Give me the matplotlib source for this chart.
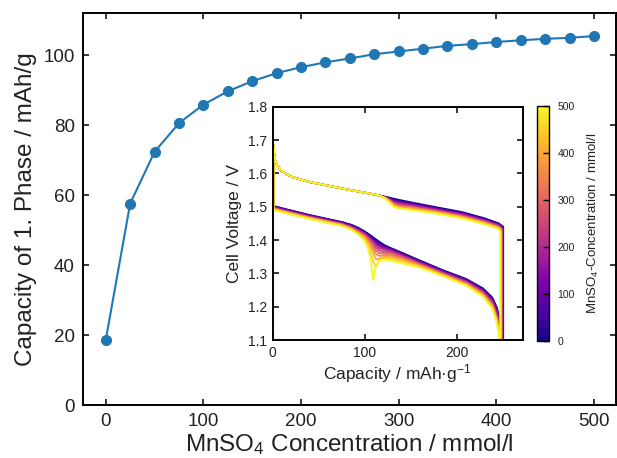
import numpy as np
import matplotlib
matplotlib.use("Agg")
import matplotlib.pyplot as plt
from matplotlib import cm, colors

plt.rcParams['font.family'] = ['Liberation Sans', 'DejaVu Sans']
plt.rcParams['mathtext.fontset'] = 'custom'
plt.rcParams['mathtext.rm'] = 'Liberation Sans'
plt.rcParams['mathtext.it'] = 'Liberation Sans:italic'
plt.rcParams['mathtext.bf'] = 'Liberation Sans:bold'

# ---------------- main data ----------------
conc = [0, 25, 50, 75, 100, 125, 150, 175, 200, 225, 250, 275, 300, 325, 350,
        375, 400, 425, 450, 475, 500]
capacity_phase1 = [18.6, 57.6, 72.4, 80.6, 85.9, 89.7, 92.6, 94.9, 96.6, 98.0,
                   99.1, 100.3, 101.1, 101.9, 102.7, 103.2, 103.8, 104.3, 104.7,
                   105.0, 105.5]

# ---------------- inset data ----------------
curve_conc = [0, 50, 100, 150, 200, 250, 300, 350, 400, 450, 500]

lower_cap = [0.8, 15, 40, 65, 75, 85, 92, 99, 103, 106, 109, 112, 116, 121, 128, 140,
             160, 185, 210, 228, 238, 243, 246]
lower_v = [
    [1.502, 1.492, 1.475, 1.460, 1.454, 1.446, 1.438, 1.427, 1.420, 1.414, 1.408, 1.402, 1.394, 1.385, 1.376, 1.362, 1.338, 1.309, 1.283, 1.255, 1.228, 1.198, 1.165],
    [1.501, 1.491, 1.474, 1.459, 1.453, 1.445, 1.436, 1.425, 1.417, 1.411, 1.404, 1.398, 1.390, 1.382, 1.374, 1.360, 1.336, 1.307, 1.281, 1.253, 1.225, 1.193, 1.159],
    [1.500, 1.490, 1.473, 1.458, 1.452, 1.443, 1.434, 1.423, 1.415, 1.408, 1.401, 1.394, 1.386, 1.379, 1.372, 1.358, 1.334, 1.305, 1.279, 1.250, 1.221, 1.189, 1.153],
    [1.498, 1.488, 1.471, 1.456, 1.450, 1.441, 1.432, 1.421, 1.412, 1.405, 1.397, 1.389, 1.381, 1.376, 1.370, 1.356, 1.332, 1.304, 1.277, 1.248, 1.218, 1.184, 1.147],
    [1.497, 1.487, 1.470, 1.455, 1.449, 1.440, 1.430, 1.419, 1.410, 1.402, 1.393, 1.384, 1.375, 1.372, 1.367, 1.354, 1.330, 1.302, 1.275, 1.245, 1.215, 1.180, 1.141],
    [1.496, 1.486, 1.469, 1.454, 1.448, 1.438, 1.428, 1.417, 1.407, 1.398, 1.388, 1.377, 1.368, 1.366, 1.363, 1.351, 1.328, 1.300, 1.273, 1.243, 1.212, 1.175, 1.135],
    [1.495, 1.485, 1.468, 1.453, 1.447, 1.437, 1.426, 1.415, 1.404, 1.394, 1.382, 1.369, 1.360, 1.361, 1.359, 1.348, 1.326, 1.298, 1.271, 1.240, 1.208, 1.170, 1.129],
    [1.494, 1.484, 1.467, 1.452, 1.446, 1.435, 1.424, 1.412, 1.400, 1.388, 1.374, 1.358, 1.352, 1.355, 1.354, 1.345, 1.324, 1.296, 1.269, 1.238, 1.205, 1.166, 1.123],
    [1.493, 1.483, 1.466, 1.451, 1.445, 1.434, 1.422, 1.409, 1.395, 1.380, 1.362, 1.342, 1.344, 1.350, 1.349, 1.341, 1.322, 1.295, 1.267, 1.235, 1.202, 1.161, 1.117],
    [1.491, 1.481, 1.464, 1.449, 1.443, 1.432, 1.420, 1.405, 1.388, 1.366, 1.335, 1.320, 1.340, 1.345, 1.344, 1.336, 1.319, 1.293, 1.265, 1.233, 1.198, 1.157, 1.111],
    [1.490, 1.480, 1.463, 1.448, 1.442, 1.431, 1.418, 1.400, 1.378, 1.345, 1.280, 1.325, 1.340, 1.341, 1.338, 1.330, 1.317, 1.291, 1.263, 1.230, 1.195, 1.152, 1.105],
]
end_cap = [250.0, 249.7, 249.4, 249.0, 248.7, 248.4, 248.0, 247.7, 247.4, 247.1, 246.8]
cutoff_v = 1.0

upper_cap_common = [0.8, 1.3, 2.5, 5, 10, 20, 40, 60, 80, 100]
upper_v_common = [1.685, 1.665, 1.640, 1.622, 1.606, 1.590, 1.574, 1.563, 1.552, 1.542]
upper_cap = [115, 122, 127, 131, 136, 150, 180, 205, 230, 245]
upper_v = [
    [1.534, 1.530, 1.527, 1.524, 1.521, 1.513, 1.497, 1.484, 1.465, 1.450],
    [1.534, 1.529, 1.525, 1.521, 1.518, 1.511, 1.495, 1.482, 1.463, 1.448],
    [1.534, 1.529, 1.524, 1.519, 1.515, 1.508, 1.493, 1.480, 1.461, 1.446],
    [1.534, 1.528, 1.522, 1.516, 1.512, 1.506, 1.491, 1.478, 1.459, 1.445],
    [1.534, 1.528, 1.521, 1.514, 1.510, 1.504, 1.489, 1.476, 1.458, 1.443],
    [1.534, 1.527, 1.519, 1.512, 1.507, 1.501, 1.487, 1.474, 1.456, 1.441],
    [1.534, 1.527, 1.518, 1.509, 1.504, 1.499, 1.485, 1.472, 1.454, 1.440],
    [1.534, 1.526, 1.516, 1.507, 1.501, 1.497, 1.484, 1.470, 1.452, 1.438],
    [1.534, 1.526, 1.515, 1.504, 1.499, 1.494, 1.482, 1.469, 1.451, 1.436],
    [1.534, 1.525, 1.513, 1.502, 1.497, 1.492, 1.480, 1.467, 1.449, 1.435],
    [1.534, 1.525, 1.512, 1.500, 1.495, 1.490, 1.478, 1.465, 1.447, 1.433],
]
upper_end_v = [1.440, 1.438, 1.437, 1.436, 1.434, 1.433, 1.431, 1.430, 1.428, 1.427, 1.425]

main_xticks = [0, 100, 200, 300, 400, 500]
main_yticks = [0, 20, 40, 60, 80, 100]
inset_xticks = [0, 100, 200]
inset_yticks = [1.1, 1.2, 1.3, 1.4, 1.5, 1.6, 1.7, 1.8]
cbar_ticks = [0, 100, 200, 300, 400, 500]

TXT = '#222222'

fig = plt.figure(figsize=(6.17, 4.58), dpi=100)
ax = fig.add_axes([0.135, 0.1157, 0.864, 0.8552])
ax.plot(conc, capacity_phase1, '-o', color='#1f77b4', lw=1.5, ms=7, zorder=3)
ax.set_xlim(-23, 523)
ax.set_ylim(0, 112)
ax.set_xticks(main_xticks)
ax.set_yticks(main_yticks)
ax.tick_params(direction='in', top=True, right=True, length=4, width=1.1,
               labelsize=13.5, colors='black', labelcolor=TXT, pad=6)
for s in ax.spines.values():
    s.set_linewidth(1.4)
ax.set_xlabel('MnSO$_4$ Concentration / mmol/l', fontsize=17.5, color=TXT, labelpad=1)
ax.set_ylabel('Capacity of 1. Phase / mAh/g', fontsize=17.5, color=TXT, labelpad=5)

# inset
ins = fig.add_axes([0.442, 0.2576, 0.405, 0.5095])
cmap = plt.get_cmap('plasma')
norm = colors.Normalize(vmin=0, vmax=500)
for k, c in enumerate(curve_conc):
    xs = list(lower_cap) + [end_cap[k], end_cap[k]]
    ys = list(lower_v[k]) + [cutoff_v, upper_end_v[k]]
    up_c = list(upper_cap_common) + list(upper_cap)
    up_v = list(upper_v_common) + list(upper_v[k])
    xs += up_c[::-1]
    ys += up_v[::-1]
    xs += [lower_cap[0]]
    ys += [lower_v[k][0]]
    ins.plot(xs, ys, color=cmap(norm(c)), lw=1.3, solid_joinstyle='round')
ins.set_xlim(0, 271)
ins.set_ylim(1.1, 1.8)
ins.set_xticks(inset_xticks)
ins.set_yticks(inset_yticks)
ins.tick_params(direction='in', top=True, right=True, length=4, width=1.1,
                labelsize=10, labelcolor=TXT, pad=4)
for s in ins.spines.values():
    s.set_linewidth(1.4)
ins.set_xlabel('Capacity / mAh·g$^{-1}$', fontsize=12.5, color=TXT, labelpad=2)
ins.set_ylabel('Cell Voltage / V', fontsize=12.5, color=TXT, labelpad=4)

cax = fig.add_axes([0.871, 0.2555, 0.019, 0.513])
sm = cm.ScalarMappable(norm=norm, cmap=cmap)
cb = fig.colorbar(sm, cax=cax, ticks=cbar_ticks)
cb.outline.set_linewidth(1.0)
cax.tick_params(direction='in', length=4, width=1.0, labelsize=7.5,
                labelcolor=TXT, pad=6)
cb.set_label('MnSO$_4$-Concentration / mmol/l', fontsize=9.5, color=TXT, labelpad=8)

fig.savefig('out.png', dpi=100)
